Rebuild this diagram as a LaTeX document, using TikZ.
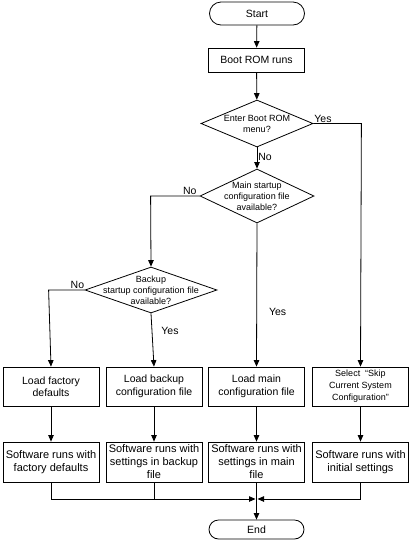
\documentclass[tikz,border=0pt]{standalone}
\usepackage{fontspec}
\setmainfont{Liberation Sans}
\usetikzlibrary{shapes.geometric,arrows.meta}

\begin{document}
\begin{tikzpicture}[x=1pt,y=-1pt,
  every node/.style={font=\fontsize{10.5}{12.5}\selectfont},
  term/.style={draw,line width=0.8pt,minimum width=95pt,inner sep=0pt},
  proc/.style={draw,line width=0.8pt,minimum width=96pt,minimum height=39pt,inner sep=1pt,align=center},
  run/.style={proc,minimum height=40pt,font=\fontsize{11}{13}\selectfont},
  decision/.style={draw,diamond,line width=0.8pt,inner sep=0pt},
  dtext/.style={font=\fontsize{9}{10.8}\selectfont,align=center,inner sep=0pt},
  flow/.style={line width=0.8pt,-{Triangle[length=6.5pt,width=5.5pt]}},
  plain/.style={line width=0.8pt},
  lbl/.style={font=\fontsize{10.5}{12}\selectfont,inner sep=1pt}]
\useasboundingbox (0,0) rectangle (410,550);

% start and boot
\node[term,rounded corners=11.5pt,minimum height=23pt] (start) at (257,13.5) {Start};
\node[proc,minimum height=24pt] (boot) at (256.5,60) {Boot ROM runs};

% decisions
\node[decision,minimum width=112pt,minimum height=47pt,
  label={[dtext]center:Enter Boot ROM\\menu?}] (menu) at (257,123.5) {};
\node[decision,minimum width=114pt,minimum height=54pt,
  label={[dtext]center:Main startup\\configuration file\\available?}] (main) at (257,196) {};
\node[decision,minimum width=132pt,minimum height=46pt,
  label={[dtext]center:Backup\\startup configuration file\\available?}] (backup) at (151,290) {};

% load boxes
\node[proc] (loadfac) at (51,386.5) {Load factory\\defaults};
\node[proc] (loadbak) at (154,386.5) {Load backup\\configuration file};
\node[proc] (loadmain) at (256.5,386.5) {Load main\\configuration file};
\node[proc,font=\fontsize{9}{12}\selectfont] (skip) at (360.5,386.5) {Select \ “Skip\\Current System\\Configuration”};

% run boxes
\node[run] (runfac) at (51,462) {Software runs with\\factory defaults};
\node[run] (runbak) at (154,462) {Software runs with\\settings in backup\\file};
\node[run] (runmain) at (256.5,462) {Software runs with\\settings in main\\file};
\node[run] (runinit) at (360.5,462) {Software runs with\\initial settings};

\node[term,rounded corners=9.5pt,minimum height=19pt] (end) at (256.5,529.5) {End};

\coordinate (mleft) at (255.5,499);
\coordinate (mright) at (257.5,499);

% connectors
\draw[flow] (start) -- (boot);
\draw[flow] (boot) -- (menu);
\draw[flow] (menu) -- node[lbl,right,pos=0.45] {No} (main);
\draw[flow] (menu.east) -- node[lbl,above,pos=0.2] {Yes} ++(48,0) -- (skip.north);
\draw[flow] (main.west) -- node[lbl,above,pos=0.2] {No} ++(-49,0) -- (backup.north);
\draw[flow] (main.south) -- node[lbl,right,pos=0.62,xshift=11pt] {Yes} (loadmain.north);
\draw[flow] (backup.west) -- node[lbl,above,pos=0.2] {No} ++(-36,0) -- (loadfac.north);
\draw[flow] (backup.south) -- node[lbl,right,pos=0.33,xshift=8pt] {Yes} (loadbak.north);

\draw[flow] (loadfac) -- (runfac);
\draw[flow] (loadbak) -- (runbak);
\draw[flow] (loadmain) -- (runmain);
\draw[flow] (skip) -- (runinit);

\draw[flow] (runfac.south) |- (mleft);
\draw[plain] (runbak.south) -- (runbak.south |- mleft);
\draw[flow] (runinit.south) |- (mright);
\draw[flow] (runmain.south) -- (end.north);
\end{tikzpicture}
\end{document}
